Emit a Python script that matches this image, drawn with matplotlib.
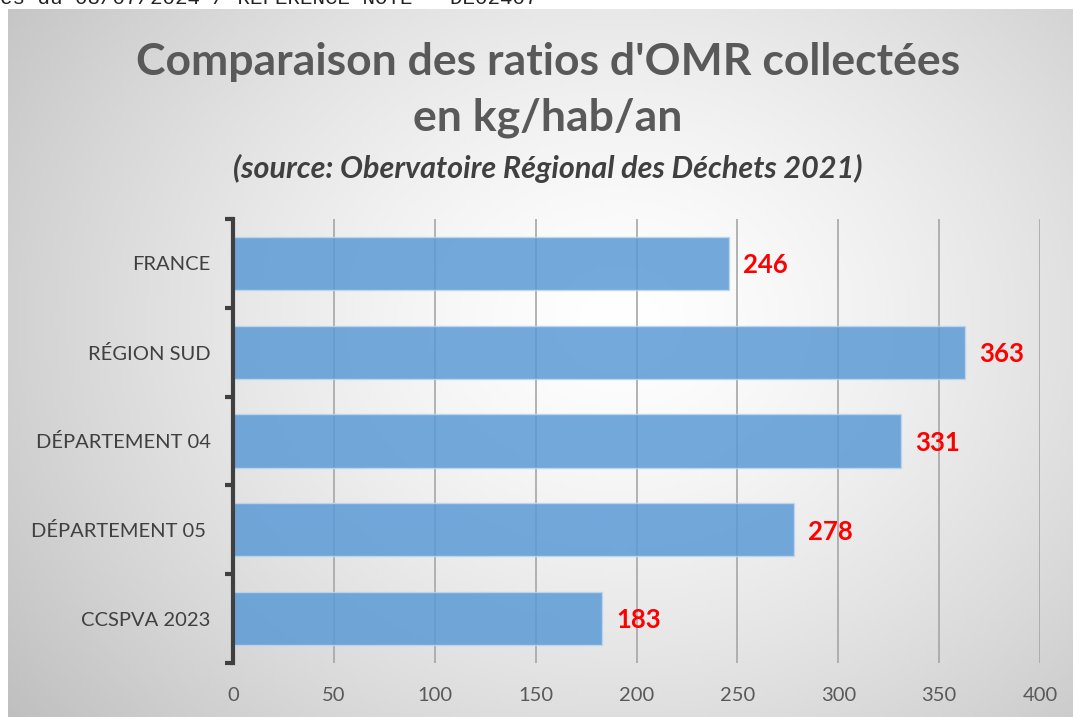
import numpy as np
import matplotlib.pyplot as plt
from matplotlib.ticker import FixedLocator

# Data
categories = ['FRANCE', 'RÉGION SUD', 'DÉPARTEMENT 04', 'DÉPARTEMENT 05 ', 'CCSPVA 2023']
values = [246, 363, 331, 278, 183]
xticks = [0, 50, 100, 150, 200, 250, 300, 350, 400]

W, H = 1073, 717
fig = plt.figure(figsize=(W / 100, H / 100), dpi=100)
fig.patch.set_facecolor('white')

# gradient panel behind the chart
bg = fig.add_axes([8 / W, 0, (W - 8) / W, (H - 9) / H])
ny, nx = 200, 300
yy, xx = np.mgrid[0:ny, 0:nx]
px = 8 + xx / (nx - 1) * (W - 8)
py = 9 + yy / (ny - 1) * (H - 9)
r = np.hypot(px - 620, (py - 320) * 1.2)
r = r / r.max()
shade = 1 - 0.25 * r ** 1.4
bg.imshow(np.dstack([shade] * 3), aspect='auto', extent=[0, 1, 0, 1], origin='upper')
bg.set_axis_off()

# header text cut at the top of the page
fig.text(0.0, 1.0 + 2 / H, 'es du 08/07/2024 / REFERENCE NOTE - DE02407',
         family='Liberation Mono', fontsize=15, color='#222222', va='center', ha='left')

# plot area
left, right, top, bottom = 233, 1040, 219, 663
ax = fig.add_axes([left / W, 1 - bottom / H, (right - left) / W, (bottom - top) / H])
ax.patch.set_alpha(0)

y = np.arange(len(categories))
ax.barh(y, values, height=0.6, color='#5B9BD5', alpha=0.85,
        edgecolor='#BDD7EE', linewidth=1, zorder=3)
for yi, v in zip(y, values):
    ax.text(v + 7, yi + 0.02, str(v), color='#FF0000', fontsize=18.5, fontweight='bold',
            family='Lato', va='center', ha='left', zorder=4)

ax.set_xlim(0, 400)
ax.set_ylim(len(categories) - 0.5, -0.5)
ax.set_xticks(xticks)
ax.set_xticklabels([str(t) for t in xticks], family='Lato', fontsize=14.5, color='#595959')
ax.set_yticks(y)
ax.set_yticklabels(categories, family='Lato', fontsize=14.5, color='#404040')
ax.yaxis.set_minor_locator(FixedLocator(np.arange(-0.5, len(categories), 1)))
ax.tick_params(axis='y', which='major', length=0, pad=16)
ax.tick_params(axis='y', which='minor', length=6, width=3, color='#404040', direction='out')
ax.tick_params(axis='x', length=0, pad=17)
ax.grid(axis='x', color='#A6A6A6', linewidth=1.2, zorder=1)
for s in ['top', 'right', 'bottom']:
    ax.spines[s].set_visible(False)
ax.spines['left'].set_color('#404040')
ax.spines['left'].set_linewidth(3)
ax.spines['left'].set_zorder(5)

# titles
fig.text(548 / W, 1 - 62 / H, "Comparaison des ratios d'OMR collectées",
         family='Lato', fontweight='bold', fontsize=32, color='#595959', ha='center', va='center')
fig.text(548 / W, 1 - 118 / H, 'en kg/hab/an',
         family='Lato', fontweight='bold', fontsize=32, color='#595959', ha='center', va='center')
fig.text(548 / W, 1 - 168 / H, '(source: Obervatoire Régional des Déchets 2021)',
         family='Lato', fontweight='bold', style='italic', fontsize=22, color='#404040',
         ha='center', va='center')

fig.savefig('out.png', dpi=100)
